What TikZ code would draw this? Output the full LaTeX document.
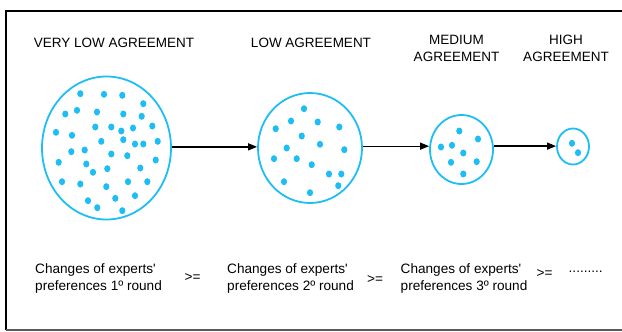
\documentclass[tikz,border=0pt]{standalone}
\usepackage{fontspec}
\setmainfont{Liberation Sans}
\usetikzlibrary{shapes.geometric,arrows.meta}
\definecolor{cy}{RGB}{30,190,245}
\tikzset{
  blob/.style={draw=cy,line width=1.8pt,ellipse,inner sep=0pt},
  dot/.style={fill=cy},
  arr/.style={line width=1.3pt,-{Triangle[length=9pt,width=7pt]}},
  lbl/.style={font=\fontsize{13.5}{17}\selectfont,inner sep=0pt,align=center},
  txt/.style={font=\fontsize{13.6}{17}\selectfont,inner sep=0pt,align=left,anchor=west},
}
\newcommand{\dt}[2]{\fill[dot] (#1,#2) ellipse[x radius=3.1pt,y radius=3.5pt];}
\begin{document}
\begin{tikzpicture}[x=1pt,y=-1pt]
\useasboundingbox (0,0) rectangle (622,332);
% frame
\draw[line width=2pt,black] (6,330) -- (6,10.5) -- (630,10.5);
\draw[line width=1.5pt,black!65] (6,330) -- (630,330);
% titles
\node[lbl] (t1) at (114,43) {VERY LOW AGREEMENT};
\node[lbl] (t2) at (311,43) {LOW AGREEMENT};
\node[lbl] (t3) at (456.5,48) {MEDIUM\\AGREEMENT};
\node[lbl] (t4) at (566,48) {HIGH\\AGREEMENT};
% circles
\node[blob,minimum width=129pt,minimum height=143pt] (c1) at (106.5,148) {};
\node[blob,minimum width=104pt,minimum height=110pt] (c2) at (310,148) {};
\node[blob,minimum width=63pt,minimum height=69pt] (c3) at (461.5,149.5) {};
\node[blob,minimum width=32pt,minimum height=36pt] (c4) at (573,146.5) {};
% arrows
\draw[arr] (c1.1.8) -- (c1.1.8 -| c2.west);
\draw[arr] (c2.2.2) -- (c2.2.2 -| c3.west);
\draw[arr] (c3.6.3) -- (c3.6.3 -| c4.west);
% dots circle 1
\dt{80.3}{93.7}\dt{104}{94.3}\dt{122.3}{95.3}\dt{143.3}{103.7}
\dt{65.3}{114}\dt{77}{110.3}\dt{97}{112}\dt{123.3}{114}\dt{141.7}{116.3}
\dt{56}{132.3}\dt{72}{135.3}\dt{95.3}{127}\dt{111.3}{127}\dt{121.3}{131}
\dt{133}{128}\dt{152.3}{126}\dt{101.3}{141.3}\dt{123.3}{139.7}\dt{135}{144}
\dt{143.3}{144}\dt{157.7}{141.3}\dt{71.3}{151.7}\dt{84.7}{150}\dt{111.3}{154}
\dt{127.3}{155.7}\dt{58.7}{162.3}\dt{86.3}{164}\dt{107.3}{168.7}\dt{93}{172.3}
\dt{140.3}{168}\dt{155.7}{160}\dt{62}{181.7}\dt{80.3}{184}\dt{106.3}{186.7}
\dt{128}{181.7}\dt{147.3}{181.7}\dt{88}{200.7}\dt{97.3}{207.7}\dt{115.3}{198.3}
\dt{135}{195.7}\dt{122.3}{210.7}
% dots circle 2
\dt{304}{108.7}\dt{291}{121}\dt{317.7}{122}\dt{275.7}{128.7}\dt{339.3}{127}
\dt{301.7}{136}\dt{320}{144.3}\dt{286.7}{148}\dt{344.3}{149.7}\dt{274}{158.7}
\dt{296.7}{158.7}\dt{311.7}{164.7}\dt{329}{174}\dt{341.3}{174}\dt{338.3}{185.7}
\dt{284}{181.7}\dt{310}{192.7}
% dots circle 3
\dt{459.3}{131}\dt{478}{139}\dt{441}{147}\dt{452}{145.3}\dt{463.3}{153}
\dt{451}{162.3}\dt{476.7}{161.7}\dt{463.3}{174}
% dots circle 4
\dt{572}{143.3}\dt{578}{152.7}
% bottom texts
\node[txt] (b1) at (35,278) {Changes of experts\textquotesingle\\preferences 1º round};
\node[txt] (b2) at (227,278) {Changes of experts\textquotesingle\\preferences 2º round};
\node[txt] (b3) at (400.5,278) {Changes of experts\textquotesingle\\preferences 3º round};
\node[txt] (g1) at (184.5,278) {>=};
\node[txt] (g2) at (367,280) {>=};
\node[txt] (g3) at (536.5,274) {>=};
\node[txt] (d1) at (568.5,272) {.........};
\end{tikzpicture}
\end{document}
